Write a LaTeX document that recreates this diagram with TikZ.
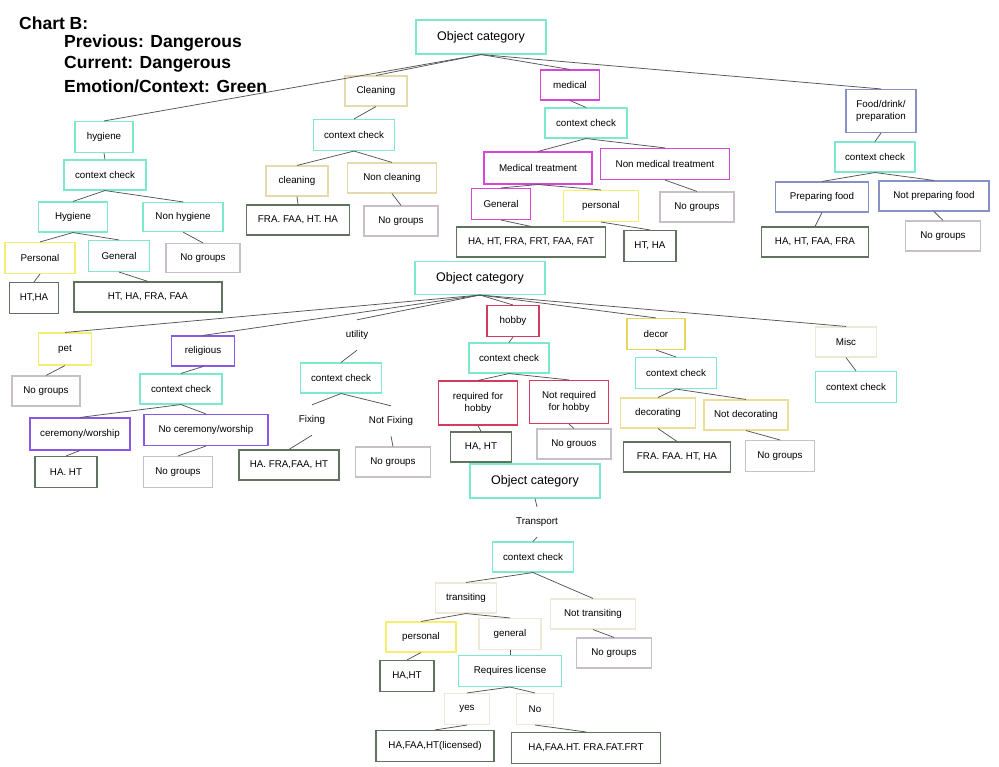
\documentclass[tikz,border=0pt]{standalone}
\usepackage{fontspec}
\setmainfont{Liberation Sans}
\definecolor{cteal}{RGB}{125,232,205}
\definecolor{ctan}{RGB}{230,218,172}
\definecolor{cmag}{RGB}{215,70,215}
\definecolor{cyel}{RGB}{245,238,110}
\definecolor{cgry}{RGB}{200,192,200}
\definecolor{cres}{RGB}{95,115,95}
\definecolor{cblu}{RGB}{135,145,195}
\definecolor{cpur}{RGB}{135,90,225}
\definecolor{cred}{RGB}{210,60,95}
\definecolor{cdec}{RGB}{232,215,90}
\definecolor{cdecl}{RGB}{235,222,150}
\definecolor{cfnt}{RGB}{238,232,215}
\definecolor{clin}{RGB}{85,85,85}
\tikzset{
  bx/.style={draw=#1, line width=1.1pt, fill=white, font=\fontsize{9.8}{11.5}\selectfont, inner sep=1pt, align=center},
  plain/.style={font=\fontsize{9.8}{11.5}\selectfont, inner sep=1pt, minimum height=30pt, align=center},
  big/.style={font=\fontsize{12.5}{14}\selectfont},
  sz/.style 2 args={minimum width=#1pt, minimum height=#2pt},
  edge/.style={draw=clin, line width=0.75pt},
  ttl/.style={anchor=west, font=\bfseries\fontsize{17.5}{20}\selectfont, inner sep=0pt}
}
\begin{document}
\begin{tikzpicture}[x=1pt,y=-1pt]
\useasboundingbox[fill=white] (0,0) rectangle (999,767);
% title
\node[ttl] (t1) at (19,23) {Chart B:};
\node[ttl] (t2) at (64,43) {Previous: Dangerous};
\node[ttl] (t3) at (64,64) {Current: Dangerous};
\node[ttl] (t4) at (64,86) {Emotion/Context: Green};
% ---------- top tree
\node[bx=cteal, sz={130}{34}, big] (oc1) at (481,37) {Object category};
\node[bx=cteal, sz={58}{31}] (hyg) at (104,137) {hygiene};
\node[bx=ctan, sz={62}{30}] (cln) at (376,91) {Cleaning};
\node[bx=cmag, sz={59}{30}] (med) at (570,85) {medical};
\node[bx=cblu, sz={70}{43}] (food) at (881,111) {Food/drink/\\preparation};
\node[bx=cteal, sz={82}{30}] (cc1) at (105,175) {context check};
\node[bx=cteal, sz={81}{31}] (cc2) at (354,135) {context check};
\node[bx=cteal, sz={82}{30}] (cc3) at (586,123) {context check};
\node[bx=cteal, sz={80}{30}] (cc4) at (875,157) {context check};
\node[bx=cteal, sz={69}{30}] (hyg2) at (73,217) {Hygiene};
\node[bx=cteal, sz={80}{29}] (nhyg) at (183,217) {Non hygiene};
\node[bx=cyel, sz={70}{31}] (pers1) at (40,258) {Personal};
\node[bx=cteal, sz={61}{31}] (gen1) at (119,256) {General};
\node[bx=cgry, sz={74}{29}] (ng1) at (203,258) {No groups};
\node[bx=cres, sz={49}{31}] (r1) at (34,298) {HT,HA};
\node[bx=cres, sz={148}{30}] (r2) at (148,297) {HT, HA, FRA, FAA};
\node[bx=ctan, sz={62}{30}] (cln2) at (297,181) {cleaning};
\node[bx=ctan, sz={89}{30}] (ncln) at (392,178) {Non cleaning};
\node[bx=cres, sz={103}{30}] (r3) at (298,220) {FRA. FAA, HT. HA};
\node[bx=cgry, sz={74}{30}] (ng2) at (401,221) {No groups};
\node[bx=cmag, sz={108}{32}] (mt) at (538,168) {Medical treatment};
\node[bx=cmag, sz={129}{31}] (nmt) at (665,164) {Non medical treatment};
\node[bx=cmag, sz={59}{31}] (gen2) at (501,204) {General};
\node[bx=cyel, sz={75}{31}] (pers2) at (601,206) {personal};
\node[bx=cgry, sz={74}{30}] (ng3) at (697,207) {No groups};
\node[bx=cres, sz={149}{30}] (r4) at (531,242) {HA, HT, FRA, FRT, FAA, FAT};
\node[bx=cres, sz={52}{31}] (r5) at (650,246) {HT, HA};
\node[bx=cblu, sz={93}{30}] (pf) at (822,197) {Preparing food};
\node[bx=cblu, sz={110}{30}] (npf) at (934,196) {Not preparing food};
\node[bx=cres, sz={107}{30}] (r6) at (815,242) {HA, HT, FAA, FRA};
\node[bx=cgry, sz={75}{30}] (ng4) at (943,236) {No groups};
\foreach \a/\b in {oc1/hyg,oc1/cln,oc1/med,oc1/food,hyg/cc1,cln/cc2,med/cc3,food/cc4,
  cc1/hyg2,cc1/nhyg,hyg2/pers1,hyg2/gen1,nhyg/ng1,pers1/r1,gen1/r2,
  cc2/cln2,cc2/ncln,cln2/r3,ncln/ng2,
  cc3/mt,cc3/nmt,mt/gen2,mt/pers2,nmt/ng3,gen2/r4,pers2/r5,
  cc4/pf,cc4/npf,pf/r6,npf/ng4}
  \draw[edge] (\a.south) -- (\b.north);
% ---------- middle tree
\node[bx=cteal, sz={130}{33}, big] (oc2) at (480,278) {Object category};
\node[bx=cyel, sz={53}{32}] (pet) at (65,349) {pet};
\node[bx=cpur, sz={63}{30}] (rel) at (203,351) {religious};
\node[plain, minimum width=40pt] (uti) at (357,335) {utility};
\node[bx=cred, sz={52}{31}] (hob) at (513,321) {hobby};
\node[bx=cdec, sz={58}{31}] (dec) at (656,334) {decor};
\node[bx=cfnt, sz={61}{30}] (misc) at (846,342) {Misc};
\node[bx=cgry, sz={68}{30}] (ng5) at (46,391) {No groups};
\node[bx=cteal, sz={82}{30}] (cc5) at (181,389) {context check};
\node[bx=cteal, sz={81}{30}] (cc6) at (341,378) {context check};
\node[bx=cteal, sz={80}{30}] (cc7) at (509,358) {context check};
\node[bx=cteal, sz={81}{31}] (cc8) at (676,373) {context check};
\node[bx=cteal, sz={81}{31}] (cc9) at (856,387) {context check};
\node[bx=cpur, sz={100}{32}] (cer) at (80,434) {ceremony/worship};
\node[bx=cpur, sz={124}{31}] (ncer) at (206,430) {No ceremony/worship};
\node[bx=cres, sz={62}{31}] (r7) at (66,472) {HA. HT};
\node[bx=cgry, sz={69}{31}] (ng6) at (178,472) {No groups};
\node[plain, minimum width=40pt] (fix) at (312,420) {Fixing};
\node[plain, minimum width=55pt] (nfix) at (391,421) {Not Fixing};
\node[bx=cres, sz={100}{30}] (r8) at (289,465) {HA. FRA,FAA, HT};
\node[bx=cgry, sz={75}{30}] (ng7) at (393,462) {No groups};
\node[bx=cred, sz={79}{44}] (req) at (478,403) {required for\\hobby};
\node[bx=cred, sz={79}{43}] (nreq) at (569,402) {Not required\\for hobby};
\node[bx=cres, sz={61}{30}] (r9) at (481,447) {HA, HT};
\node[bx=cgry, sz={74}{30}] (ng8) at (574,444) {No grouos};
\node[bx=cdecl, sz={75}{30}] (deco) at (658,413) {decorating};
\node[bx=cdecl, sz={84}{30}] (ndeco) at (746,415) {Not decorating};
\node[bx=cres, sz={107}{30}] (r10) at (677,457) {FRA. FAA. HT, HA};
\node[bx=cgry, sz={69}{31}] (ng9) at (780,456) {No groups};
\foreach \a/\b in {oc2/pet,oc2/rel,oc2/uti,oc2/hob,oc2/dec,oc2/misc,
  pet/ng5,rel/cc5,uti/cc6,hob/cc7,dec/cc8,misc/cc9,
  cc5/cer,cc5/ncer,cer/r7,ncer/ng6,
  cc6/fix,cc6/nfix,fix/r8,nfix/ng7,
  cc7/req,cc7/nreq,req/r9,nreq/ng8,
  cc8/deco,cc8/ndeco,deco/r10,ndeco/ng9}
  \draw[edge] (\a.south) -- (\b.north);
% ---------- bottom tree
\node[bx=cteal, sz={130}{34}, big] (oc3) at (535,481) {Object category};
\node[plain, minimum width=60pt] (trn) at (537,522) {Transport};
\node[bx=cteal, sz={81}{30}] (cc10) at (533,557) {context check};
\node[bx=cfnt, sz={61}{30}] (tra) at (466,598) {transiting};
\node[bx=cfnt, sz={85}{30}] (ntra) at (593,614) {Not transiting};
\node[bx=cyel, sz={70}{30}] (pers3) at (421,637) {personal};
\node[bx=cfnt, sz={62}{31}] (gen3) at (510,634) {general};
\node[bx=cgry, sz={75}{30}] (ng10) at (614,653) {No groups};
\node[bx=cres, sz={54}{31}] (r11) at (407,676) {HA,HT};
\node[bx=cteal, sz={103}{31}] (rl) at (510,671) {Requires license};
\node[bx=cfnt, sz={45}{31}] (yes) at (467,709) {yes};
\node[bx=cfnt, sz={37}{31}] (no) at (535,709) {No};
\node[bx=cres, sz={118}{31}] (r12) at (435,746) {HA,FAA,HT(licensed)};
\node[bx=cres, sz={149}{31}] (r13) at (586,748) {HA,FAA.HT. FRA.FAT.FRT};
\foreach \a/\b in {oc3/trn,trn/cc10,cc10/tra,cc10/ntra,tra/pers3,tra/gen3,
  ntra/ng10,pers3/r11,gen3/rl,rl/yes,rl/no,yes/r12,no/r13}
  \draw[edge] (\a.south) -- (\b.north);
\end{tikzpicture}
\end{document}
